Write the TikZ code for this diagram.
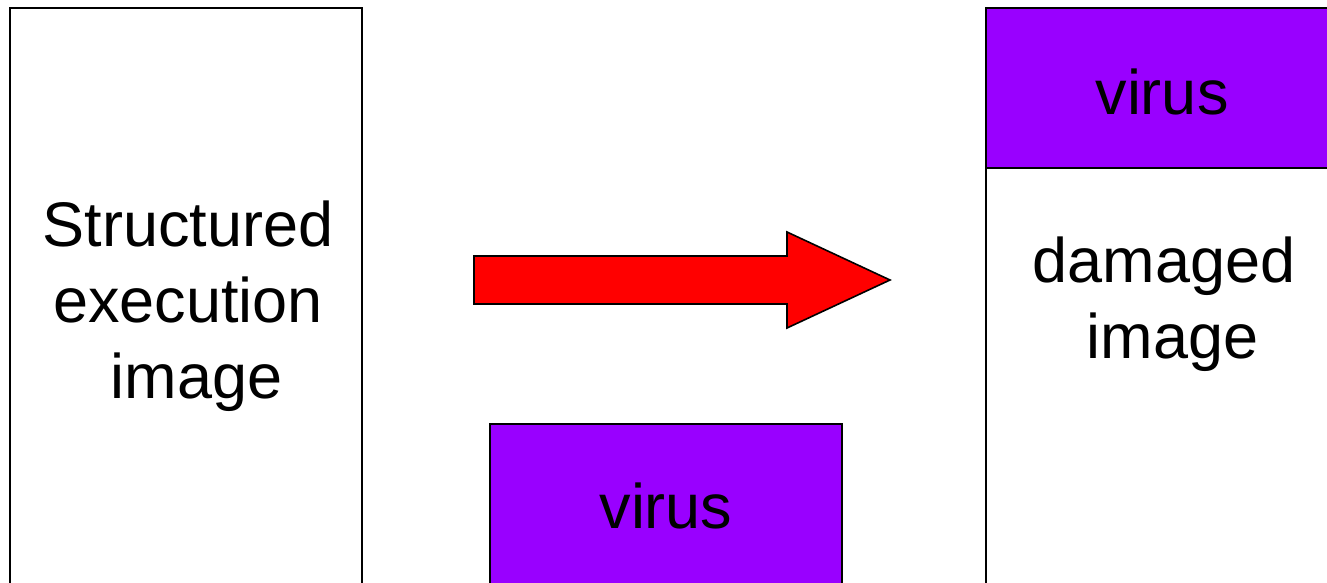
\documentclass[tikz,border=0pt]{standalone}
\usepackage{fontspec}
\setmainfont{Liberation Sans}
\definecolor{virusc}{HTML}{9900FF}
\definecolor{arrowc}{HTML}{FF0000}
\begin{document}
\begin{tikzpicture}[x=1pt,y=-1pt,
  boxline/.style={draw=black,line width=2pt},
  lbl/.style={font=\fontsize{63}{76}\selectfont,align=center,inner sep=0pt,anchor=base}]
\useasboundingbox (0,0) rectangle (1327,583);
\begin{scope}
\clip (0,0) rectangle (1327,583);
% left box
\draw[boxline,fill=white] (10,8) rectangle (362,620);
% right box
\draw[boxline,fill=white] (986,8) rectangle (1338,620);
\draw[boxline,fill=virusc] (986,8) rectangle (1338,168);
% virus box bottom middle
\draw[boxline,fill=virusc] (490,424) rectangle (842,620);
% arrow
\draw[line width=1.6pt,fill=arrowc,line join=miter]
  (474,256) -- (787,256) -- (787,232) -- (890,280) -- (787,328) -- (787,304) -- (474,304) -- cycle;
\end{scope}
\node[lbl] (t1) at (188,398) {Structured\\execution\\\ image};
\node[lbl] (t2) at (1162,115) {virus};
\node[lbl] (t3) at (1164,358) {damaged\\\ image};
\node[lbl] (t4) at (666,528) {virus};
\end{tikzpicture}
\end{document}
